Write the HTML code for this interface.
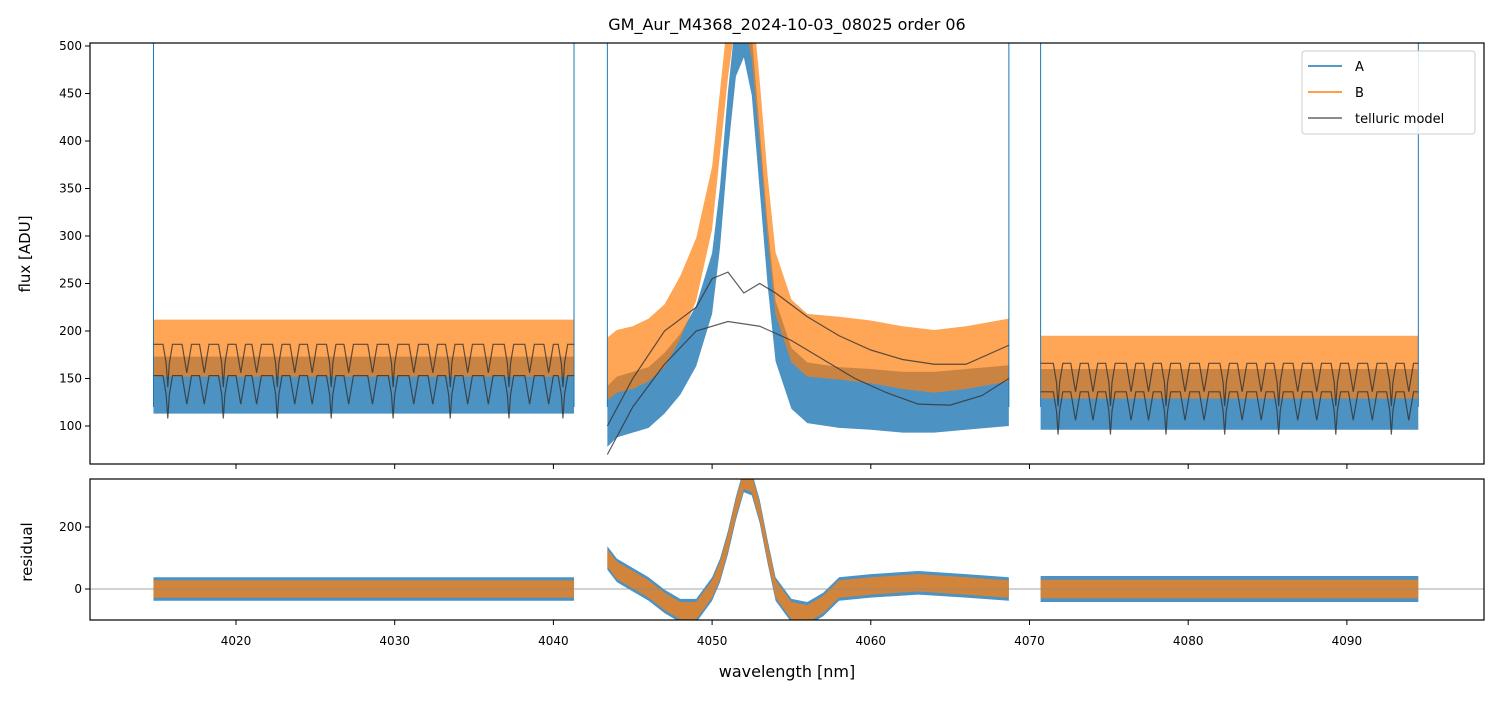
<!DOCTYPE html>
<html><head><meta charset="utf-8"><style>
html,body{margin:0;padding:0;background:#fff;}
svg text{font-family:"DejaVu Sans","Liberation Sans",sans-serif;}
</style></head><body>
<svg id="chart" width="1499" height="696" xmlns="http://www.w3.org/2000/svg">
<text x="787" y="30" font-size="16" text-anchor="middle">GM_Aur_M4368_2024-10-03_08025  order 06</text>
<g id="topg"></g><g id="botg"></g>
<text x="30" y="254" font-size="15" text-anchor="middle" transform="rotate(-90 30 254)">flux [ADU]</text>
<text x="32" y="552" font-size="15" text-anchor="middle" transform="rotate(-90 32 552)">residual</text>
<text x="787" y="677" font-size="16" text-anchor="middle">wavelength [nm]</text>
<g>
<rect x="1302" y="51" width="173" height="83" rx="3" fill="#fff" fill-opacity="0.85" stroke="#ccc"/>
<line x1="1308" y1="66" x2="1342" y2="66" stroke="#1f77b4" stroke-width="1.5"/><text x="1355" y="71" font-size="13">A</text>
<line x1="1308" y1="92" x2="1342" y2="92" stroke="#ff7f0e" stroke-width="1.5"/><text x="1355" y="97" font-size="13">B</text>
<line x1="1308" y1="118" x2="1342" y2="118" stroke="#666" stroke-width="1.5"/><text x="1355" y="123" font-size="13">telluric model</text>
</g>
</svg>
<script>
// ---- data ----
const xTicks=[4020,4030,4040,4050,4060,4070,4080,4090];
const yTicksTop=[100,150,200,250,300,350,400,450,500];
const yTicksBot=[0,200];
const seg1=[4014.8,4041.3], seg3=[4070.7,4094.5];
const midW=[4043.4,4044,4045,4046,4047,4048,4049,4050,4050.5,4051,4051.5,4052,4052.5,4053,4053.5,4054,4055,4056,4058,4060,4062,4064,4066,4068.7];
const midA=[110,120,125,130,145,165,195,250,320,420,500,520,480,380,280,200,150,135,130,128,125,125,128,132];
const midB=[160,168,172,180,195,225,265,340,420,500,560,560,520,430,330,250,200,185,182,178,172,168,172,180];
const side1A=143, side1B=182, side3A=128, side3B=162;
const modelMidUpW=[4043.4,4045,4047,4049,4050,4051,4052,4053,4054,4056,4058,4060,4062,4064,4066,4068.7];
const modelMidUp=[100,150,200,225,255,262,240,250,240,215,195,180,170,165,165,185];
const smoothW=[4043.4,4045,4047,4049,4051,4053,4055,4057,4059,4061,4063,4065,4067,4068.7];
const smoothV=[70,120,165,200,210,205,190,170,150,135,123,122,132,150];
const dips1=[4015.7,4016.9,4018.0,4019.2,4020.3,4021.3,4022.6,4023.7,4024.8,4026.0,4027.1,4028.6,4029.9,4031.2,4032.4,4033.5,4034.6,4035.9,4037.2,4038.5,4039.7,4040.6];
const dips3=[4071.8,4072.9,4074.0,4075.1,4076.4,4077.5,4078.6,4079.8,4081.0,4082.3,4083.4,4084.6,4085.7,4086.9,4088.1,4089.3,4090.4,4091.6,4092.8,4093.9];
const spikes=[4014.8,4041.3,4043.4,4068.7,4070.7,4094.5];
const resW=[4043.4,4044,4046,4047,4048,4049,4050,4050.5,4051,4051.5,4052,4052.5,4053,4053.5,4054,4055,4056,4057,4058,4060,4063,4066,4068.7];
const resV=[100,60,0,-40,-70,-70,0,60,150,260,350,340,250,120,0,-70,-80,-50,0,10,20,10,0];
// ---- scales ----
const X=w=>236+(w-4020)*15.87;
const YT=v=>426-(v-100)*0.95;
const YB=v=>589-v*0.31;
const NS='http://www.w3.org/2000/svg';
function mk(p,t,a){const e=document.createElementNS(NS,t);for(const k in a)e.setAttribute(k,a[k]);p.appendChild(e);return e;}
const topG=document.getElementById('topg'), botG=document.getElementById('botg');
const ct=mk(topG,'clipPath',{id:'ct'});mk(ct,'rect',{x:90,y:43,width:1394,height:421});
const cb=mk(botG,'clipPath',{id:'cb'});mk(cb,'rect',{x:90,y:479,width:1394,height:141});
const gT=mk(topG,'g',{'clip-path':'url(#ct)'}), gB=mk(botG,'g',{'clip-path':'url(#cb)'});
function band(g,ws,cs,hw,col,op,Y,name){
  let up=ws.map((w,i)=>X(w)+','+Y(cs[i]+hw)), lo=ws.map((w,i)=>X(w)+','+Y(cs[i]-hw)).reverse();
  const p=mk(g,'polygon',{points:up.concat(lo).join(' '),fill:col,'fill-opacity':op});
  
  
}
function sideBand(seg,c,hw,col,op,name){band(gT,seg,[c,c],hw,col,op,YT,name);}
function model(seg,base,dips,name){
  const list=[[seg[0],base]];dips.forEach((d,i)=>{list.push([d-0.3,base]);list.push([d-0.1,base-20]);list.push([d,base-(i%3==0?45:30)]);list.push([d+0.1,base-20]);list.push([d+0.3,base]);});
  list.push([seg[1],base]);
  const p=mk(gT,'polyline',{points:list.map(q=>X(q[0])+','+YT(q[1])).join(' '),fill:'none',stroke:'#333','stroke-opacity':0.8,'stroke-width':1.2});
  
  
}
sideBand(seg1,side1A,30,'#1f77b4',0.8,'series-a-seg1');
sideBand(seg3,side3A,32,'#1f77b4',0.8,'series-a-seg3');
band(gT,midW,midA,32,'#1f77b4',0.8,YT,'series-a-mid');
sideBand(seg1,side1B,30,'#ff7f0e',0.7,'series-b-seg1');
sideBand(seg3,side3B,33,'#ff7f0e',0.7,'series-b-seg3');
band(gT,midW,midB,33,'#ff7f0e',0.7,YT,'series-b-mid');
spikes.forEach(s=>{const l=mk(gT,'line',{x1:X(s),x2:X(s),y1:43,y2:YT(120),stroke:'#1f77b4','stroke-width':1});

});
model(seg1,side1B+4,dips1,'telluric-model-b-seg1');model(seg1,side1A+10,dips1,'telluric-model-a-seg1');
model(seg3,side3B+4,dips3,'telluric-model-b-seg3');model(seg3,side3A+8,dips3,'telluric-model-a-seg3');
let m=mk(gT,'polyline',{points:modelMidUpW.map((w,i)=>X(w)+','+YT(modelMidUp[i])).join(' '),fill:'none',stroke:'#333','stroke-opacity':0.8,'stroke-width':1.2});


m=mk(gT,'polyline',{points:smoothW.map((w,i)=>X(w)+','+YT(smoothV[i])).join(' '),fill:'none',stroke:'#333','stroke-opacity':0.8,'stroke-width':1.2});


band(gB,seg1,[0,0],38,'#1f77b4',0.8,YB,'residual-a-seg1');band(gB,seg3,[0,0],42,'#1f77b4',0.8,YB,'residual-a-seg3');
band(gB,resW,resV,38,'#1f77b4',0.8,YB,'residual-a-mid');
band(gB,seg1,[0,0],28,'#ff7f0e',0.75,YB,'residual-b-seg1');band(gB,seg3,[0,0],30,'#ff7f0e',0.75,YB,'residual-b-seg3');
band(gB,resW,resV,28,'#ff7f0e',0.75,YB,'residual-b-mid');
m=mk(botG,'line',{x1:90,x2:1484,y1:YB(0),y2:YB(0),stroke:'#888','stroke-width':0.8});


m=mk(topG,'rect',{x:90,y:43,width:1394,height:421,fill:'none',stroke:'#000','stroke-width':1.2});


m=mk(botG,'rect',{x:90,y:479,width:1394,height:141,fill:'none',stroke:'#000','stroke-width':1.2});


xTicks.forEach(t=>{mk(topG,'line',{x1:X(t),x2:X(t),y1:464,y2:469,stroke:'#000'});mk(botG,'line',{x1:X(t),x2:X(t),y1:620,y2:625,stroke:'#000'});
 const e=mk(botG,'text',{x:X(t),y:645,'font-size':12,'text-anchor':'middle'});e.textContent=t;
 
 });
yTicksTop.forEach(t=>{mk(topG,'line',{x1:85,x2:90,y1:YT(t),y2:YT(t),stroke:'#000'});
 const e=mk(topG,'text',{x:82,y:YT(t)+4,'font-size':12,'text-anchor':'end'});e.textContent=t;
 
 });
yTicksBot.forEach(t=>{mk(botG,'line',{x1:85,x2:90,y1:YB(t),y2:YB(t),stroke:'#000'});
 const e=mk(botG,'text',{x:82,y:YB(t)+4,'font-size':12,'text-anchor':'end'});e.textContent=t;
 
 });
</script>
</body></html>
